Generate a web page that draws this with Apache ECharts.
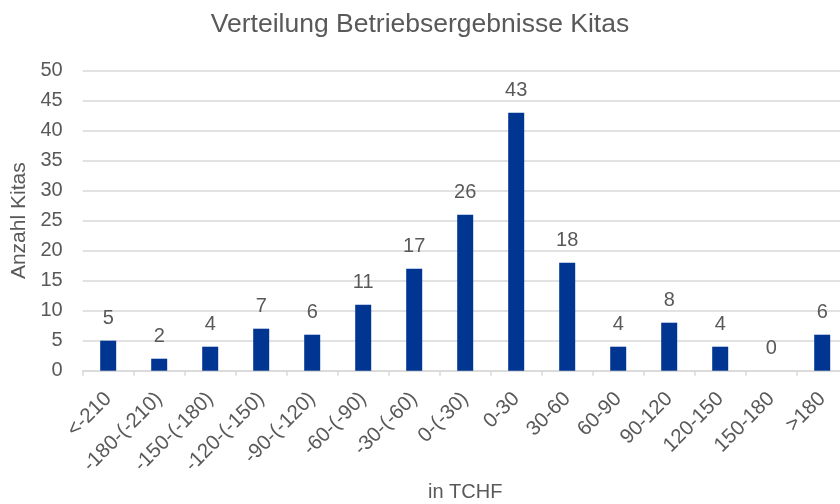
<!DOCTYPE html>
<html>
<head>
<meta charset="utf-8">
<script src="https://cdn.jsdelivr.net/npm/echarts@6/dist/echarts.min.js"></script>
<style>
html,body{margin:0;padding:0;background:#fff;}
#chart{width:840px;height:504px;}
</style>
</head>
<body>
<div id="chart"></div>
<script>
// Operating result bands (thousand CHF) and number of daycare centres per band
const categories = ['<-210', '-180-(-210)', '-150-(-180)', '-120-(-150)', '-90-(-120)', '-60-(-90)', '-30-(-60)', '0-(-30)', '0-30', '30-60', '60-90', '90-120', '120-150', '150-180', '>180'];
const counts = [5, 2, 4, 7, 6, 11, 17, 26, 43, 18, 4, 8, 4, 0, 6];

const textColor = '#595959';
const fontFamily = '"Liberation Sans", Arial, sans-serif';

const chart = echarts.init(document.getElementById('chart'), null, { renderer: 'canvas' });
chart.setOption({
  animation: false,
  textStyle: { fontFamily: fontFamily },
  title: {
    text: 'Verteilung Betriebsergebnisse Kitas',
    left: 'center',
    top: 6,
    textStyle: { fontFamily: fontFamily, fontSize: 26.5, fontWeight: 'normal', color: textColor }
  },
  grid: { left: 82.7, top: 70.7, width: 765, height: 300, containLabel: false, outerBoundsMode: 'none' },
  xAxis: {
    type: 'category',
    data: categories,
    name: 'in TCHF',
    nameLocation: 'middle',
    nameGap: 111,
    nameTextStyle: { fontFamily: fontFamily, fontSize: 20, color: textColor },
    axisLine: { lineStyle: { color: '#d9d9d9', width: 1.5 } },
    axisTick: { show: true, alignWithLabel: false, length: 5, lineStyle: { color: '#d9d9d9', width: 1.5 } },
    axisLabel: { rotate: 45, interval: 0, margin: 25, fontSize: 20.5, color: textColor, fontFamily: fontFamily }
  },
  yAxis: {
    type: 'value',
    min: 0,
    max: 50,
    interval: 5,
    name: 'Anzahl Kitas',
    nameLocation: 'middle',
    nameGap: 53,
    nameTextStyle: { fontFamily: fontFamily, fontSize: 21, color: textColor },
    axisLine: { show: false },
    axisTick: { show: false },
    axisLabel: { fontSize: 20, color: textColor, margin: 20, fontFamily: fontFamily },
    splitLine: { lineStyle: { color: '#d9d9d9', width: 1.5 } }
  },
  series: [{
    type: 'bar',
    data: counts,
    barWidth: 16,
    itemStyle: { color: '#003591' },
    label: {
      show: true,
      position: 'top',
      distance: 12,
      fontSize: 20,
      color: textColor,
      fontFamily: fontFamily
    }
  }]
});
</script>
</body>
</html>
